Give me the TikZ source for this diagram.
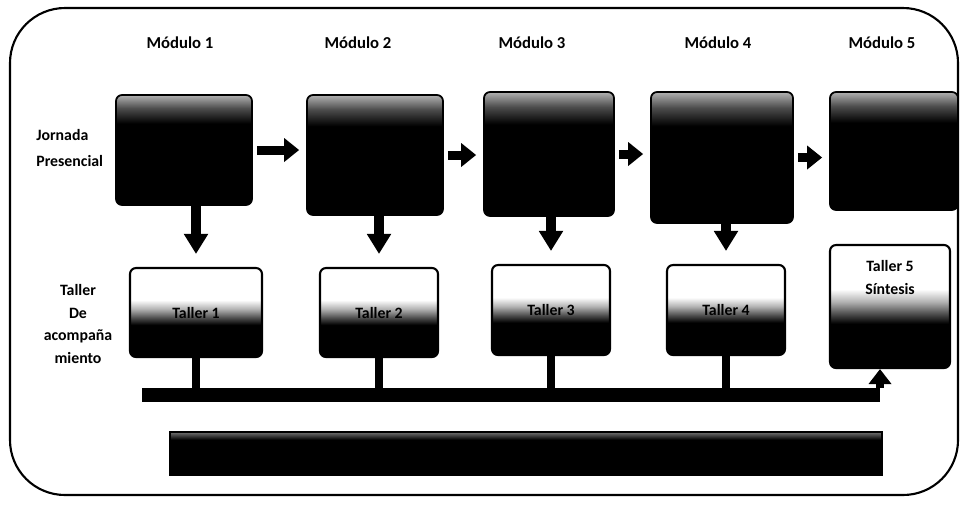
\documentclass[tikz,border=0pt]{standalone}
\usepackage{fontspec}
\setmainfont{Carlito}
\usetikzlibrary{arrows.meta}
\pgfdeclareverticalshading{modshade}{100bp}{color(0bp)=(black); color(62bp)=(black); color(69bp)=(black!70); color(75bp)=(black!30); color(100bp)=(black!30)}
\pgfdeclareverticalshading{tallershade}{100bp}{color(0bp)=(black); color(43bp)=(black); color(47bp)=(black!70); color(52bp)=(black!30); color(57bp)=(white); color(100bp)=(white)}
\pgfdeclareverticalshading{baseshade}{100bp}{color(0bp)=(black); color(66bp)=(black); color(75bp)=(black!55); color(100bp)=(black!55)}

\begin{document}
\begin{tikzpicture}[x=0.02cm, y=-0.02cm,
	titulo/.style={font=\bfseries\fontsize{9.5}{11}\selectfont},
	rotulo/.style={font=\bfseries\fontsize{9}{13}\selectfont, inner sep=0pt},
	modbox/.style={draw=black, line width=1pt, rounded corners=0.12cm, shading=modshade},
	tallerbox/.style={draw=black, line width=1.2pt, rounded corners=0.12cm, shading=tallershade, font=\bfseries\fontsize{9}{11}\selectfont},
	flecha/.style={line width=0.18cm, -{Triangle[width=0.46cm, length=0.3cm]}, shorten <=0.08cm, shorten >=0.14cm},
	bajada/.style={line width=0.2cm, -{Triangle[width=0.46cm, length=0.4cm]}, shorten >=0.26cm},
	tallo/.style={line width=0.16cm},
	barra/.style={line width=0.28cm},
	subida/.style={line width=0.16cm, -{Triangle[width=0.44cm, length=0.3cm]}}
]
	\useasboundingbox (0,0) rectangle (962,505);
	\draw[line width=1.2pt, rounded corners=1.1cm] (10,8) rectangle (958,495);

	\foreach \n/\x in {1/180,2/358,3/532,4/718,5/882}
		\node[titulo] (t\n) at (\x,43) {Módulo \n};

	\node[rotulo, align=left, anchor=west] (jornada) at (36,148) {Jornada\\[2pt]Presencial};
	\node[rotulo, align=center] (acomp) at (78,324) {Taller\\De\\acompaña\\miento};

	\node[modbox, minimum width=2.72cm, minimum height=2.2cm] (m1) at (184,150) {};
	\node[modbox, minimum width=2.72cm, minimum height=2.4cm] (m2) at (375,155) {};
	\node[modbox, minimum width=2.6cm, minimum height=2.48cm] (m3) at (549,154) {};
	\node[modbox, minimum width=2.84cm, minimum height=2.62cm] (m4) at (722,157.5) {};
	\node[modbox, minimum width=2.56cm, minimum height=2.36cm] (m5) at (894,151) {};

	\node[tallerbox, minimum width=2.64cm, minimum height=1.78cm] (w1) at (196,312.5) {Taller 1};
	\node[tallerbox, minimum width=2.36cm, minimum height=1.78cm] (w2) at (379,312.5) {Taller 2};
	\node[tallerbox, minimum width=2.36cm, minimum height=1.8cm] (w3) at (551,310) {Taller 3};
	\node[tallerbox, minimum width=2.36cm, minimum height=1.8cm] (w4) at (726,310) {Taller 4};
	\node[tallerbox, minimum width=2.4cm, minimum height=2.46cm] (w5) at (890,306.5) {};
	\node[rotulo, align=center, anchor=north] (tx5) at ([yshift=-0.32cm]w5.north) {Taller 5\\Síntesis};

	\foreach \a/\b in {m1/m2,m2/m3,m3/m4,m4/m5}
		\draw[flecha] (\a.east) -- (\a.east -| \b.west);
	\foreach \n in {1,...,4}
		\draw[bajada] (m\n.south -| w\n.north) -- (w\n.north);

	\coordinate (barra0) at (142,395);
	\coordinate (barra1) at (880,395);
	\draw[barra] (barra0) -- (barra1);
	\foreach \n in {1,...,4}
		\draw[tallo] (w\n.south) -- (w\n.south |- barra0);
	\draw[subida] ([yshift=0.14cm]barra1) -- (barra1 |- w5.south);

	\node[draw=black, line width=0.8pt, shading=baseshade, minimum width=14.24cm, minimum height=0.86cm] (base) at (526,453.5) {};
\end{tikzpicture}
\end{document}
